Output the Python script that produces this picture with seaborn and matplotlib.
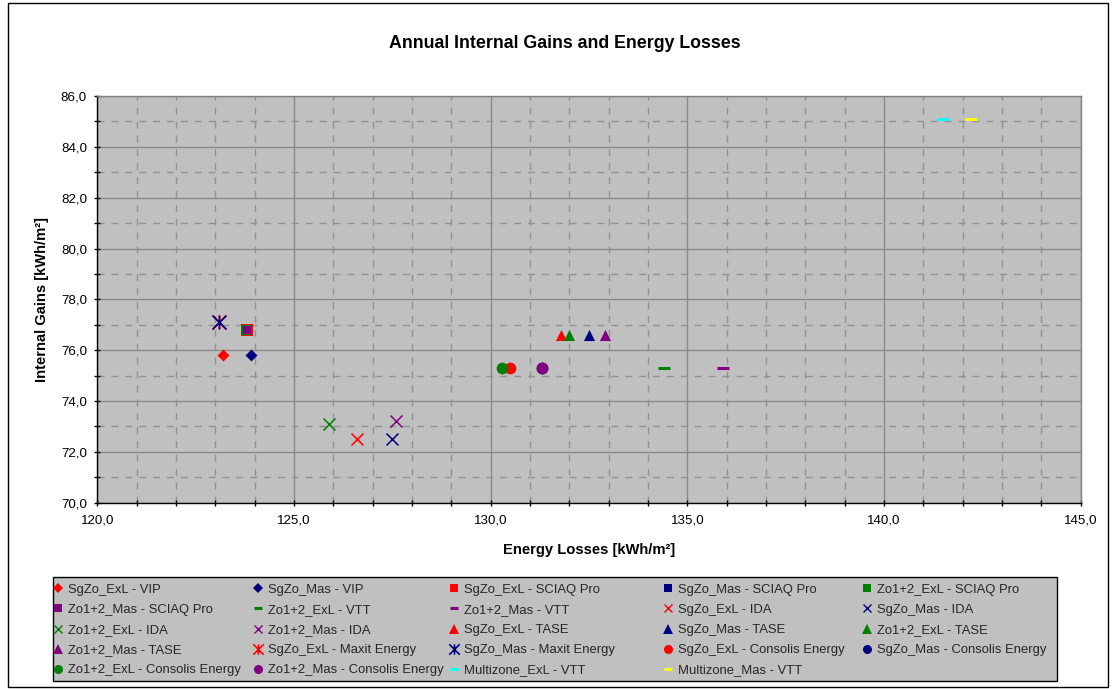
import numpy as np
import pandas as pd
import matplotlib
matplotlib.use("Agg")
import matplotlib.pyplot as plt
import seaborn as sns
from matplotlib.lines import Line2D
from matplotlib.path import Path
from matplotlib.ticker import MultipleLocator, FuncFormatter
from matplotlib.patches import Rectangle

# ---------------- data ----------------
series_names = [
    "SgZo_ExL - VIP", "SgZo_Mas - VIP", "SgZo_ExL - SCIAQ Pro", "SgZo_Mas - SCIAQ Pro",
    "Zo1+2_ExL - SCIAQ Pro", "Zo1+2_Mas - SCIAQ Pro", "Zo1+2_ExL - VTT", "Zo1+2_Mas - VTT",
    "SgZo_ExL - IDA", "SgZo_Mas - IDA", "Zo1+2_ExL - IDA", "Zo1+2_Mas - IDA",
    "SgZo_ExL - TASE", "SgZo_Mas - TASE", "Zo1+2_ExL - TASE", "Zo1+2_Mas - TASE",
    "SgZo_ExL - Maxit Energy", "SgZo_Mas - Maxit Energy",
    "SgZo_ExL - Consolis Energy", "SgZo_Mas - Consolis Energy",
    "Zo1+2_ExL - Consolis Energy", "Zo1+2_Mas - Consolis Energy",
    "Multizone_ExL - VTT", "Multizone_Mas - VTT",
]
energy_losses = [
    123.2, 123.9, 123.8, 123.8,
    123.8, 123.8, 134.4, 135.9,
    126.6, 127.5, 125.9, 127.6,
    131.8, 132.5, 132.0, 132.9,
    123.1, 123.1,
    130.5, 131.3,
    130.3, 131.3,
    141.5, 142.2,
]
internal_gains = [
    75.8, 75.8, 76.8, 76.8,
    76.8, 76.8, 75.3, 75.3,
    72.5, 72.5, 73.1, 73.2,
    76.6, 76.6, 76.6, 76.6,
    77.1, 77.1,
    75.3, 75.3,
    75.3, 75.3,
    85.1, 85.1,
]
x_ticks = [120, 125, 130, 135, 140, 145]
y_ticks = [70, 72, 74, 76, 78, 80, 82, 84, 86]

title = "Annual Internal Gains and Energy Losses"
x_label = "Energy Losses [kWh/m²]"
y_label = "Internal Gains [kWh/m²]"

# ---------------- styles ----------------
RED, NAVY, GREEN, PURPLE, CYAN, YELLOW = "#FF0000", "#000080", "#008000", "#800080", "#00FFFF", "#FFFF00"
asterisk = Path([(-1, -1), (1, 1), (-1, 1), (1, -1), (0, -1), (0, 1)],
                [Path.MOVETO, Path.LINETO, Path.MOVETO, Path.LINETO, Path.MOVETO, Path.LINETO])
colors = [RED, NAVY, RED, NAVY, GREEN, PURPLE, GREEN, PURPLE,
          RED, NAVY, GREEN, PURPLE, RED, NAVY, GREEN, PURPLE,
          RED, NAVY, RED, NAVY, GREEN, PURPLE, CYAN, YELLOW]
markers = ["D", "D", "s", "s", "s", "s", "_", "_",
           "x", "x", "x", "x", "^", "^", "^", "^",
           asterisk, asterisk, "o", "o", "o", "o", "_", "_"]
sizes = [37, 37, 71, 45, 45, 28, 81, 81,
         74, 74, 74, 74, 64, 64, 64, 64,
         100, 100, 71, 71, 71, 71, 81, 81]
widths = [0, 0, 0, 0, 0, 0, 2.2, 2.2,
          1.1, 1.1, 1.1, 1.1, 0, 0, 0, 0,
          1.2, 1.2, 0, 0, 0, 0, 2.2, 2.2]
leg_ms = {"D": 4.9, "s": 5.3, "_": 6.0, "x": 5.8, "^": 6.6, "o": 6.5}
FS = 9.4

sns.set_theme(style="white")
plt.rcParams["font.family"] = ["Liberation Sans", "DejaVu Sans"]

W, H = 1112, 689
fig = plt.figure(figsize=(W / 100, H / 100), dpi=100)
L, R, T, B = 97.3, 1080.7, 96.0, 502.7
ax = fig.add_axes([L / W, 1 - B / H, (R - L) / W, (B - T) / H])
ax.set_facecolor("#C0C0C0")

for i, name in enumerate(series_names):
    sns.scatterplot(x=[energy_losses[i]], y=[internal_gains[i]], ax=ax,
                    marker=markers[i], s=sizes[i], color=colors[i],
                    edgecolor=colors[i], linewidth=widths[i], legend=False,
                    zorder=3 + i * 0.01)

ax.set_xlim(x_ticks[0], x_ticks[-1])
ax.set_ylim(y_ticks[0], y_ticks[-1])
ax.set_xticks(x_ticks)
ax.set_yticks(y_ticks)
ax.xaxis.set_minor_locator(MultipleLocator(1))
ax.yaxis.set_minor_locator(MultipleLocator(1))
fmt = FuncFormatter(lambda v, p: f"{v:.1f}".replace(".", ","))
ax.xaxis.set_major_formatter(fmt)
ax.yaxis.set_major_formatter(fmt)

ax.set_axisbelow(True)
ax.grid(which="major", color="#8a8a8a", lw=1, ls="-")
ax.grid(which="minor", color="#929292", lw=1, ls=(0, (5, 5)))

ax.tick_params(axis="both", which="both", direction="inout", length=5, width=1,
               color="black", labelsize=9.6, labelcolor="black")
ax.tick_params(axis="x", which="major", pad=6.3)
ax.tick_params(axis="y", which="major", pad=5.0)
ax.tick_params(axis="both", which="minor", length=5)
ax.xaxis.set_ticks_position("bottom")
ax.yaxis.set_ticks_position("left")

for side in ["left", "bottom"]:
    ax.spines[side].set_color("black")
    ax.spines[side].set_linewidth(1)
for side in ["top", "right"]:
    ax.spines[side].set_color("#808080")
    ax.spines[side].set_linewidth(1)
    ax.spines[side].set_visible(True)

ax.set_xlabel(x_label, fontsize=10.6, fontweight="bold", color="black")
ax.set_ylabel(y_label, fontsize=10.6, fontweight="bold", color="black")
ax.xaxis.set_label_coords(0.5, -(550 - B) / (B - T))
ax.xaxis.label.set_verticalalignment("center")
ax.yaxis.set_label_coords(-(L - 42) / (R - L), 0.5)
ax.yaxis.label.set_verticalalignment("center")

fig.text(565 / W, 1 - 43 / H, title, ha="center", va="center",
         fontsize=12.8, fontweight="bold", color="black")

# ---------------- legend (row-major order like the original) ----------------
handles = []
for i, name in enumerate(series_names):
    m = markers[i]
    if isinstance(m, Path):
        h = Line2D([], [], ls="none", marker=m, markersize=7.5, color=colors[i],
                   markeredgecolor=colors[i], markeredgewidth=1.2)
    elif m in ("_", "x"):
        h = Line2D([], [], ls="none", marker=m, markersize=leg_ms[m], color=colors[i],
                   markeredgecolor=colors[i], markeredgewidth=2.2 if m == "_" else 1.0)
    else:
        h = Line2D([], [], ls="none", marker=m, markersize=leg_ms[m], color=colors[i],
                   markeredgecolor=colors[i], markeredgewidth=0)
    handles.append((h, name))

ncol = 5
lx0, lx1, ly0, ly1 = 52.7, 1056.7, 577.3, 680.7
fig.patches.append(Rectangle((lx0 / W, 1 - ly1 / H), (lx1 - lx0) / W, (ly1 - ly0) / H,
                             transform=fig.transFigure, facecolor="#C0C0C0",
                             edgecolor="black", linewidth=1, zorder=1))
col_marker_x = [58, 258, 454, 668, 867]
top_y = 583.8
for c in range(ncol):
    entries = handles[c::ncol]
    lg = fig.legend([h for h, _ in entries], [t for _, t in entries],
                    loc="upper left", bbox_to_anchor=((col_marker_x[c] - 4) / W, 1 - top_y / H),
                    borderaxespad=0, borderpad=0, fontsize=FS, frameon=False,
                    handlelength=0.6, handletextpad=0.45, labelspacing=0.61)
    lg.set_zorder(5)

fig.patches.append(Rectangle((7.5 / W, 2.5 / H), (1107.5 - 7.5) / W, (686.5 - 2.5) / H,
                             transform=fig.transFigure, fill=False,
                             edgecolor="black", linewidth=1))

fig.savefig("out.png", dpi=100, facecolor="white")
